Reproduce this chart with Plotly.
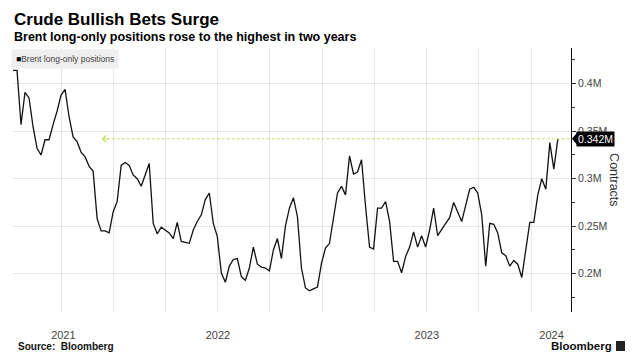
import plotly.graph_objects as go

# ---- data (weekly) ----
dates = [
    "2021-07-09", "2021-07-16", "2021-07-23", "2021-07-30", "2021-08-06", "2021-08-13", "2021-08-20", "2021-08-27",
    "2021-09-03", "2021-09-10", "2021-09-17", "2021-09-24", "2021-10-01", "2021-10-08", "2021-10-15", "2021-10-22",
    "2021-10-29", "2021-11-05", "2021-11-12", "2021-11-19", "2021-11-26", "2021-12-03", "2021-12-10", "2021-12-17",
    "2021-12-24", "2021-12-31",
    "2022-01-07", "2022-01-14", "2022-01-21", "2022-01-28", "2022-02-04", "2022-02-11", "2022-02-18", "2022-02-25",
    "2022-03-04", "2022-03-11", "2022-03-18", "2022-03-25", "2022-04-01", "2022-04-08", "2022-04-15", "2022-04-22",
    "2022-04-29", "2022-05-06", "2022-05-13", "2022-05-20", "2022-05-27", "2022-06-03", "2022-06-10", "2022-06-17",
    "2022-06-24", "2022-07-01", "2022-07-08", "2022-07-15", "2022-07-22", "2022-07-29", "2022-08-05", "2022-08-12",
    "2022-08-19", "2022-08-26", "2022-09-02", "2022-09-09", "2022-09-16", "2022-09-23", "2022-09-30", "2022-10-07",
    "2022-10-14", "2022-10-21", "2022-10-28", "2022-11-04", "2022-11-11", "2022-11-18", "2022-11-25", "2022-12-02",
    "2022-12-09", "2022-12-16", "2022-12-23", "2022-12-30",
    "2023-01-06", "2023-01-13", "2023-01-20", "2023-01-27", "2023-02-03", "2023-02-10", "2023-02-17", "2023-02-24",
    "2023-03-03", "2023-03-10", "2023-03-17", "2023-03-24", "2023-03-31", "2023-04-07", "2023-04-14", "2023-04-21",
    "2023-04-28", "2023-05-05", "2023-05-12", "2023-05-19", "2023-05-26", "2023-06-02", "2023-06-09", "2023-06-16",
    "2023-06-23", "2023-06-30", "2023-07-07", "2023-07-14", "2023-07-21", "2023-07-28", "2023-08-04", "2023-08-11",
    "2023-08-18", "2023-08-25", "2023-09-01", "2023-09-08", "2023-09-15", "2023-09-22", "2023-09-29", "2023-10-06",
    "2023-10-13", "2023-10-20", "2023-10-27", "2023-11-03", "2023-11-10", "2023-11-17", "2023-11-24", "2023-12-01",
    "2023-12-08", "2023-12-15", "2023-12-22", "2023-12-29",
    "2024-01-05", "2024-01-12", "2024-01-19", "2024-01-26", "2024-02-02", "2024-02-09", "2024-02-16",
]

positions_m = [
    0.414, 0.414, 0.357, 0.391, 0.385, 0.355, 0.332, 0.325, 0.341, 0.341, 0.357, 0.371, 0.388, 0.394, 0.365, 0.344,
    0.339, 0.328, 0.323, 0.313, 0.308, 0.258, 0.245, 0.245, 0.243, 0.265,
    0.276, 0.314, 0.317, 0.314, 0.304, 0.300, 0.292, 0.303, 0.316, 0.253, 0.242, 0.249, 0.246, 0.243, 0.237, 0.254,
    0.234, 0.233, 0.232, 0.246, 0.255, 0.262, 0.278, 0.285, 0.253, 0.239, 0.201, 0.191, 0.208, 0.215, 0.216, 0.197,
    0.193, 0.206, 0.228, 0.210, 0.207, 0.206, 0.203, 0.225, 0.237, 0.216, 0.250, 0.269, 0.280, 0.260, 0.206, 0.185,
    0.182, 0.184, 0.186, 0.211,
    0.227, 0.232, 0.260, 0.285, 0.292, 0.283, 0.324, 0.305, 0.307, 0.320, 0.271, 0.228, 0.226, 0.269, 0.269, 0.276,
    0.255, 0.213, 0.213, 0.201, 0.218, 0.228, 0.244, 0.228, 0.240, 0.228, 0.246, 0.269, 0.240, 0.247, 0.253, 0.259,
    0.275, 0.265, 0.255, 0.272, 0.289, 0.291, 0.285, 0.262, 0.208, 0.253, 0.252, 0.243, 0.222, 0.219, 0.208, 0.214,
    0.210, 0.196, 0.223, 0.254,
    0.254, 0.283, 0.300, 0.289, 0.338, 0.310, 0.342,
]

year_labels = ["2021", "2022", "2023", "2024"]
year_label_dates = ["2021-10-05", "2022-07-02", "2023-07-02", "2024-02-05"]
y_tick_vals = [0.2, 0.25, 0.3, 0.35, 0.4]
y_tick_text = ["0.2M", "0.25M", "0.3M", "0.35M", "0.4M"]
x_range = ["2021-07-09", "2024-03-10"]
y_range = [0.1597, 0.4376]
prior_level_date = "2021-12-11"
last_value = positions_m[-1]
last_label = f"{last_value:.3f}M"

FONT = "Liberation Sans, Arial, sans-serif"
GRID = "#e6e6e6"
GREEN = "#c4e06e"

fig = go.Figure()
fig.add_trace(go.Scatter(
    x=dates, y=positions_m, mode="lines",
    line=dict(color="#111111", width=1.3),
    showlegend=False, hoverinfo="skip",
))

fig.update_layout(
    width=637, height=364,
    margin=dict(l=13, r=66, t=48, b=52),
    paper_bgcolor="white", plot_bgcolor="white",
    font=dict(family=FONT, color="#444444"),
    showlegend=False,
    xaxis=dict(
        type="date", range=x_range,
        tickmode="array", tickvals=year_label_dates, ticktext=year_labels,
        showgrid=False, zeroline=False, showline=False,
        ticks="outside", ticklen=13, tickcolor="rgba(0,0,0,0)",
        tickfont=dict(size=11, color="#444444"),
        minor=dict(tick0="2022-01-01", dtick="M3", showgrid=True, gridcolor=GRID, gridwidth=1, ticks=""),
    ),
    yaxis=dict(
        side="right", range=y_range,
        tickmode="array", tickvals=y_tick_vals, ticktext=y_tick_text,
        showgrid=True, gridcolor=GRID, gridwidth=1, zeroline=False,
        showline=True, linecolor="#111111", linewidth=1,
        ticks="outside", ticklen=4, tickcolor="#333333",
        tickfont=dict(size=10.5, color="#444444"),
        minor=dict(tick0=0.2, dtick=0.025, ticks="outside", ticklen=3, tickcolor="#333333", showgrid=False),
    ),
)

# dashed reference level and arrow
fig.add_shape(type="line", xref="x", yref="y",
              x0=prior_level_date, x1=x_range[1], y0=last_value, y1=last_value,
              line=dict(color=GREEN, width=1, dash="3px,2px"))
fig.add_annotation(x=prior_level_date, y=last_value, xref="x", yref="y",
                   ax=9, ay=0, text="", showarrow=True, arrowhead=4,
                   arrowsize=1.3, arrowwidth=1, arrowcolor=GREEN)

# last value callout
fig.add_shape(type="path", xref="paper", yref="y",
              xsizemode="pixel", xanchor=1, ysizemode="pixel", yanchor=last_value,
              path="M 1 0 L 6 6 L 6 -6 Z", fillcolor="#000000", line=dict(width=0))
fig.add_annotation(x=1, xref="paper", y=last_value, yref="y", xanchor="left", yanchor="middle",
                   xshift=5, text=last_label, showarrow=False, bgcolor="#000000", borderpad=1,
                   font=dict(size=10.5, color="white", family=FONT))

# axis title
fig.add_annotation(x=1.093, y=0.5, xref="paper", yref="paper", text="Contracts", textangle=90,
                   showarrow=False, font=dict(size=12.5, color="#333333", family=FONT))

# legend look-alike
fig.add_annotation(x=-0.0036, y=0.96, xref="paper", yref="paper", xanchor="left", yanchor="middle",
                   text="<span style='color:#000'>■</span>Brent long-only positions", showarrow=False,
                   bgcolor="#efefef", borderpad=4, font=dict(size=8.5, color="#444444", family=FONT))

# titles
fig.add_annotation(x=-0.0018, y=1.108, xref="paper", yref="paper", xanchor="left", yanchor="middle",
                   text="<b>Crude Bullish Bets Surge</b>", showarrow=False,
                   font=dict(size=17, color="#000000", family=FONT))
fig.add_annotation(x=-0.0018, y=1.04, xref="paper", yref="paper", xanchor="left", yanchor="middle",
                   text="<b>Brent long-only positions rose to the highest in two years</b>", showarrow=False,
                   font=dict(size=12.5, color="#000000", family=FONT))

# footer
fig.add_annotation(x=0.0054, y=-0.131, xref="paper", yref="paper", xanchor="left", yanchor="middle",
                   text="<b>Source:  Bloomberg</b>", showarrow=False,
                   font=dict(size=10, color="#111111", family=FONT))
fig.add_annotation(x=1.077, y=-0.128, xref="paper", yref="paper", xanchor="right", yanchor="middle",
                   text="<b>Bloomberg</b>", showarrow=False,
                   font=dict(size=11.5, color="#111111", family=FONT))
fig.add_shape(type="rect", xref="paper", yref="paper",
              x0=1.0806, x1=1.0968, y0=-0.1477, y1=-0.1098,
              fillcolor="#222222", line=dict(width=0))

fig.write_html("out.html", config={"displayModeBar": False},
               post_script="document.body.style.margin='0px';")
